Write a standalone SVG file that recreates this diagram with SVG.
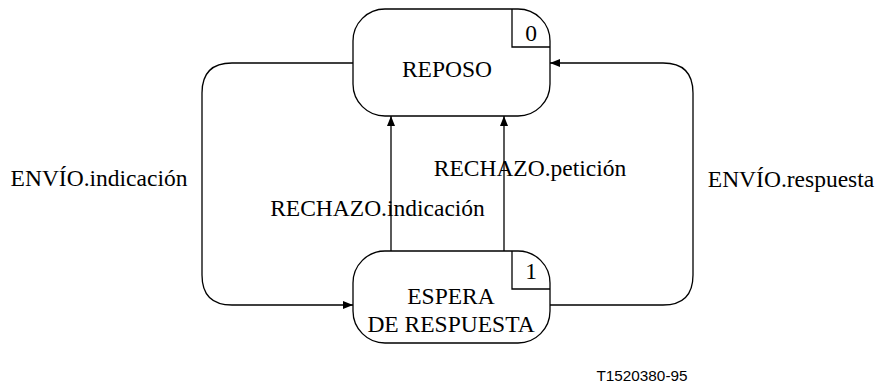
<svg xmlns="http://www.w3.org/2000/svg" width="877" height="387" viewBox="0 0 877 387">
<style>
.box{fill:#fff;stroke:#000;stroke-width:1.3}
.ln{fill:none;stroke:#000;stroke-width:1.3}
.t{font-size:23.5px;fill:#000}
.f{font-size:15.3px;fill:#000}
</style>
<defs>
<marker id="ah" markerWidth="10" markerHeight="8" refX="10" refY="4" orient="auto" markerUnits="userSpaceOnUse">
<path d="M0,0 L10,4 L0,8 Z" fill="#000"/>
</marker>
</defs>
<rect width="877" height="387" fill="#fff"/>
<g id="connectors">
<path class="ln" d="M353,63 H232 Q202,63 202,93 V275 Q202,305 232,305 H353" marker-end="url(#ah)"/>
<path class="ln" d="M550,305 H663 Q693,305 693,275 V93 Q693,63 663,63 H550" marker-end="url(#ah)"/>
<path class="ln" d="M391,251 V116" marker-end="url(#ah)"/>
<path class="ln" d="M504,251 V116" marker-end="url(#ah)"/>
</g>
<g font-family="Liberation Serif, Times New Roman, DejaVu Serif, serif">
<g id="reposo">
<rect class="box" x="353" y="9" width="197" height="107" rx="32" ry="32"/>
<path class="ln" d="M512,9 V47 H550"/>
<text class="t" x="531" y="41" text-anchor="middle">0</text>
<text class="t" x="447" y="77" text-anchor="middle">REPOSO</text>
</g>
<g id="espera">
<rect class="box" x="353" y="251" width="197" height="92" rx="32" ry="32"/>
<path class="ln" d="M512,251 V289 H550"/>
<text class="t" x="531" y="279" text-anchor="middle">1</text>
<text class="t" x="451" y="304" text-anchor="middle">ESPERA</text>
<text class="t" x="451" y="332" text-anchor="middle">DE RESPUESTA</text>
</g>
<g id="labels">
<text class="t" x="99" y="186" text-anchor="middle">ENVÍO.indicación</text>
<text class="t" x="377.5" y="216" text-anchor="middle">RECHAZO.indicación</text>
<text class="t" x="530" y="176" text-anchor="middle">RECHAZO.petición</text>
<text class="t" x="791" y="187" text-anchor="middle">ENVÍO.respuesta</text>
</g>
</g>
<text class="f" font-family="Liberation Sans, Arial, sans-serif" x="642" y="381" text-anchor="middle">T1520380-95</text>
</svg>
